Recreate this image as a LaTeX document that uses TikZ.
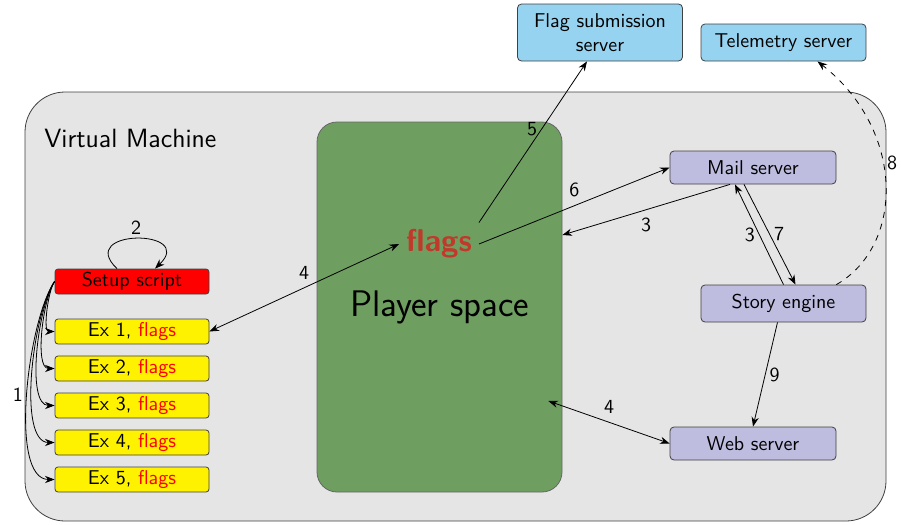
\documentclass[tikz,border=0pt]{standalone}
\usepackage{xcolor}
\usepackage{tikz}
\usetikzlibrary{arrows.meta, positioning, calc}
\renewcommand{\familydefault}{\sfdefault}
\definecolor{vmgray}{RGB}{229,229,229}
\definecolor{playergreen}{RGB}{111,158,97}
\definecolor{flagred}{RGB}{192,57,43}
\definecolor{lightblue}{RGB}{150,211,240}
\definecolor{lavender}{RGB}{190,189,224}
\tikzset{
  vm/.style={
      draw=black!75,
      fill=vmgray,
      rectangle,
      rounded corners=20pt,
      minimum width=430.5pt,
      minimum height=214.5pt
  },
  player/.style={
      draw=black!60,
      fill=playergreen,
      rectangle,
      rounded corners=10pt,
      minimum width=122.5pt,
      minimum height=185pt,
      font=\fontsize{18.5}{22}\selectfont
  },
  script/.style={
      draw=black!75,
      fill=red,
      rectangle,
      rounded corners=1.5pt,
      minimum width=77pt,
      minimum height=12.5pt,
      inner sep=0pt
  },
  exercise/.style={
      draw=black!75,
      fill=yellow,
      rectangle,
      rounded corners=1.5pt,
      minimum width=77pt,
      minimum height=12.5pt,
      inner sep=0pt
  },
  external/.style={
      draw=black!75,
      fill=lightblue,
      rectangle,
      rounded corners=2pt,
      minimum width=82.5pt,
      minimum height=18.5pt,
      align=center
  },
  service/.style={
      draw=black!75,
      fill=lavender,
      rectangle,
      rounded corners=2pt,
      minimum width=83pt,
      minimum height=16.5pt,
      align=center
  },
  arrow/.style={-Stealth},
  biarrow/.style={Stealth-Stealth},
  num/.style={inner sep=2pt}
}

\begin{document}
\begin{tikzpicture}[x=0.5pt, y=-0.5pt]
      \useasboundingbox (0,0) rectangle (901,525);
      % Virtual machine
      \node (vm) [vm] at (455.5,306.5) {};
      \node (vmlabel) [anchor=west, inner sep=0pt, font=\fontsize{13.2}{16}\selectfont] at (44,138) {Virtual Machine};
      \node (player) [player] at (439.5,307) {Player space};
      \node (flags) [font=\fontsize{15.8}{19}\selectfont\bfseries, text=flagred] at (439,244) {flags};

      % Setup script and exercises
      \node (setup) [script] at (132,281.5) {Setup script};
      \foreach \i in {1,...,5}
        \node (ex\i) [exercise] at (132,{331.5+37*(\i-1)}) {Ex \i, \textcolor{red}{flags}};

      % External servers
      \node (flagsub) [external, minimum height=28.5pt, inner sep=1pt] at (600,32.5) {Flag submission\\server};
      \node (telemetry) [external] at (783.5,42.5) {Telemetry server};

      % Services
      \node (mail) [service] at (753,167.5) {Mail server};
      \node (story) [external, fill=lavender] at (783.5,303.5) {Story engine};
      \node (web) [service] at (753,443.5) {Web server};

      % Connections
      \draw[arrow] ([xshift=-7.5pt]setup.north) .. controls +(-42,-40) and +(42,-40) .. ([xshift=11.5pt]setup.north) node[num, midway, above] {2};
      \foreach \i in {1,...,4}
        \draw[arrow] (setup.west) to[out=235, in=180, looseness=0.6] (ex\i.west);
      \draw[arrow] (setup.west) to[out=235, in=180, looseness=0.6] node[num, midway, left] {1} (ex5.west);
      \draw[biarrow] (ex1.east) -- (flags.west) node[num, midway, above=2pt] {4};
      \draw[arrow] (flags.north east) -- ([xshift=-6.5pt]flagsub.south) node[num, pos=0.58, left] {5};
      \draw[arrow] (flags.east) -- (mail.west) node[num, midway, above=2pt] {6};
      \draw[arrow] ([xshift=-11.5pt]mail.south) -- ([yshift=36pt]player.east) node[num, midway, below=2pt] {3};
      \draw[arrow] (story.north) -- ([xshift=-9pt]mail.south) node[num, midway, left] {3};
      \draw[arrow] ([xshift=-4.5pt]mail.south) -- ([xshift=6pt]story.north) node[num, midway, right] {7};
      \draw[arrow, dashed] ([xshift=-15pt]story.north east) .. controls +(69,-40) and +(87,68) .. ([xshift=17pt]telemetry.south) node[num, pos=0.58, right] {8};
      \draw[arrow] ([xshift=-3pt]story.south) -- (web.north) node[num, midway, right] {9};
      \draw[biarrow] ([xshift=-7pt, yshift=-47pt]player.east) -- (web.west) node[num, midway, above=2pt] {4};
    \end{tikzpicture}
\end{document}
